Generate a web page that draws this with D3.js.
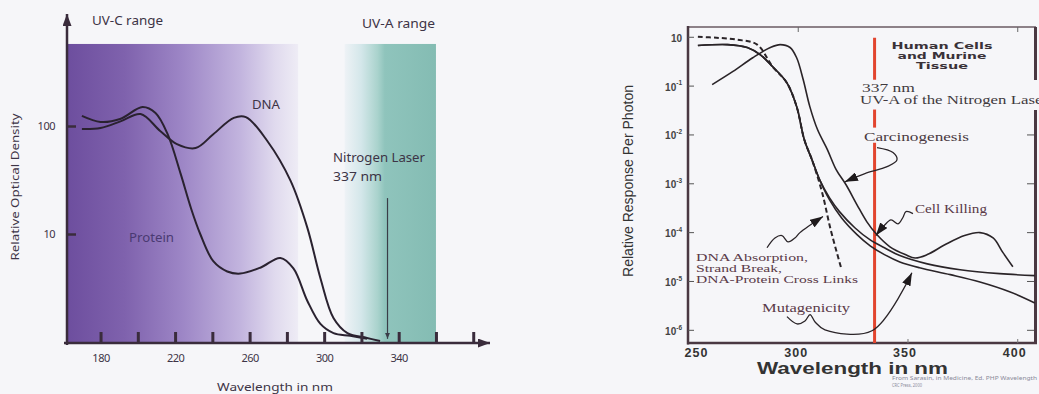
<!DOCTYPE html>
<html>
<head>
<meta charset="utf-8">
<script src="https://cdn.jsdelivr.net/npm/d3@7"></script>
<style>
  body { margin: 0; background: #f6f6f9; }
</style>
</head>
<body>
<div id="chart"></div>
<script>
// ---- left panel: absorption of DNA and protein ----
const tickWlL = [180, 200, 220, 240, 260, 280, 300, 320, 340, 360, 380];
const labelWlL = [180, 220, 260, 300, 340];
const odTicks = [10, 100];
const dnaWl = [170, 180, 191, 201.5, 212, 221, 231, 240.5, 251.5, 258, 269.5, 282, 291, 298, 305, 312.5, 323, 330];
const dnaOD = [94, 96, 111, 129, 90, 68, 62.5, 84, 119, 121, 72.6, 31, 11.4, 3.9, 1.67, 1.21, 1.09, 1.02];
const proteinWl = [170, 180, 190.5, 202.5, 209.5, 216, 223, 228.5, 233.5, 240.5, 248, 255, 266, 276.5, 283.5, 291, 298, 305, 314, 323];
const proteinOD = [124, 109, 116, 150, 132, 84, 36, 17.4, 10, 5.6, 4.5, 4.3, 4.9, 6.0, 4.8, 2.4, 1.47, 1.21, 1.14, 1.07];
const uvcBand = [162, 286];
const uvaBand = [311, 360];
const bandTop = 575;
const arrowWlL = 334;
const arrowOD = [21.5, 1.07];

// ---- right panel: action spectra ----
const tickWlR = [250, 300, 350, 400];
const decades = [0, -1, -2, -3, -4, -5, -6];
const curve1Wl = [261, 270.5, 279.5, 287.5, 292, 296.5, 299.5, 302.5, 305.5, 309, 313.5, 317.5, 322, 327, 331.5, 336, 342, 349, 353.5, 359, 367, 376, 383, 389, 393.5, 398];
const curve1Log = [-0.98, -0.71, -0.43, -0.22, -0.16, -0.22, -0.43, -0.88, -1.43, -1.9, -2.31, -2.72, -3.03, -3.44, -3.79, -4.05, -4.3, -4.46, -4.53, -4.46, -4.26, -4.07, -4.01, -4.12, -4.42, -4.71];
const curve2Wl = [254.5, 268, 277, 283, 288.5, 295, 299.5, 303, 306.5, 310, 314.5, 319, 326, 333, 339.5, 346.5, 359, 374, 392, 408];
const curve2Log = [-0.18, -0.16, -0.22, -0.37, -0.61, -0.94, -1.43, -2.11, -2.52, -2.93, -3.3, -3.58, -3.91, -4.16, -4.32, -4.48, -4.65, -4.77, -4.85, -4.89];
const curve3Wl = [254.5, 268, 277, 283, 288.5, 295, 299.5, 303, 306.5, 310, 314.5, 320, 327, 333, 339.5, 346.5, 355.5, 369.5, 383, 396.5, 408];
const curve3Log = [-0.18, -0.16, -0.22, -0.37, -0.61, -0.94, -1.43, -2.11, -2.52, -2.93, -3.34, -3.71, -4.05, -4.28, -4.46, -4.61, -4.73, -4.87, -5.02, -5.22, -5.45];
const dashedWl = [254.5, 263, 272.5, 281.5, 288.5, 295, 299.5, 303, 306.5, 311, 315, 320];
const dashedLog = [0.0, -0.02, -0.06, -0.16, -0.61, -0.94, -1.43, -2.11, -2.52, -3.17, -3.95, -4.77];
const laserWl = 335;
const laserSegments = [[-0.02, -0.88], [-1.49, -1.86], [-2.17, -6.27]];
const carcLeader = [[336.1, -2.27], [343.4, -2.37], [345.2, -2.52], [340.7, -2.66], [330.6, -2.8], [321.5, -2.97]];
const killLeader = [[352.5, -3.62], [349.3, -3.58], [347.9, -3.7], [345.7, -3.83], [342.5, -3.75], [339.3, -3.87], [335.6, -4.07]];
const dnaLeader = [[286, -4.32], [289.6, -4.12], [292.8, -4.07], [295.6, -4.2], [298.7, -4.12], [301, -4.01], [311.5, -3.68]];
const mutaLeader = [[295.1, -5.73], [299.7, -5.88], [303.3, -5.82], [305.6, -5.69], [307.9, -5.84], [312.4, -6.0], [333.8, -6.02], [352, -4.83]];

const svg = d3.select('#chart').append('svg')
  .attr('width', 1039).attr('height', 394)
  .attr('font-family', '"Noto Sans", "Open Sans", sans-serif')
  .style('background', '#f6f6f9');
const defs = svg.append('defs');

const uvcGrad = defs.append('linearGradient').attr('id', 'uvc');
[[0, '#6d4e9e'], [0.25, '#7f62ad'], [0.5, '#9d86c6'], [0.75, '#c2b4de'], [0.9, '#e0daee'], [1, '#eeecf5']]
  .forEach(s => uvcGrad.append('stop').attr('offset', s[0]).attr('stop-color', s[1]));
const uvaGrad = defs.append('linearGradient').attr('id', 'uva');
[[0, '#eef2f6'], [0.18, '#d4e7ea'], [0.36, '#aad3cd'], [0.44, '#8fc4bc'], [1, '#84bcb3']]
  .forEach(s => uvaGrad.append('stop').attr('offset', s[0]).attr('stop-color', s[1]));

function marker(id, w, h, color) {
  defs.append('marker').attr('id', id)
    .attr('viewBox', `0 0 ${w} ${h}`).attr('refX', w).attr('refY', h / 2)
    .attr('markerWidth', w).attr('markerHeight', h)
    .attr('markerUnits', 'userSpaceOnUse').attr('orient', 'auto')
    .append('path').attr('d', `M0,0L${w},${h / 2}L0,${h}z`).attr('fill', color);
}
marker('axisHead', 12, 9, '#3a2c3c');
marker('thinHead', 6, 5, '#3a3d48');
marker('annHead', 13, 9, '#1e1a1c');

function txt(g, s, x, y, opts) {
  const t = g.append('text').attr('x', x).attr('y', y).text(s);
  Object.entries(opts || {}).forEach(([k, v]) => t.attr(k, v));
  return t;
}

// ================= LEFT =================
const xL = d3.scaleLinear().domain([162, 389]).range([67, 490]);
const yL = d3.scaleLog().domain([1, 1000]).range([342, 18]);
const gL = svg.append('g');
const inkL = '#3d3446';

gL.append('rect')
  .attr('x', xL(uvcBand[0])).attr('width', xL(uvcBand[1]) - xL(uvcBand[0]))
  .attr('y', yL(bandTop)).attr('height', yL(1) - yL(bandTop))
  .attr('fill', 'url(#uvc)');
gL.append('rect')
  .attr('x', xL(uvaBand[0])).attr('width', xL(uvaBand[1]) - xL(uvaBand[0]))
  .attr('y', yL(bandTop)).attr('height', yL(1) - yL(bandTop))
  .attr('fill', 'url(#uva)');

const lineL = d3.line().x(d => xL(d[0])).y(d => yL(d[1])).curve(d3.curveCatmullRom.alpha(0.5));
gL.append('path').datum(d3.zip(dnaWl, dnaOD)).attr('d', lineL)
  .attr('fill', 'none').attr('stroke', '#2a2230').attr('stroke-width', 2);
gL.append('path').datum(d3.zip(proteinWl, proteinOD)).attr('d', lineL)
  .attr('fill', 'none').attr('stroke', '#2a2230').attr('stroke-width', 2);

// x ticks (upward bars) and labels
const xAxL = gL.append('g').attr('transform', `translate(0,${yL(1)})`)
  .call(d3.axisBottom(xL).tickValues(tickWlL).tickSize(-10).tickFormat(''));
xAxL.select('.domain').remove();
xAxL.selectAll('line').attr('stroke', '#3a2c3c').attr('stroke-width', 3);
const xLabL = gL.append('g').attr('transform', `translate(0,${yL(1)})`)
  .call(d3.axisBottom(xL).tickValues(labelWlL).tickSize(0).tickPadding(12));
xLabL.select('.domain').remove();
xLabL.selectAll('text').attr('font-size', 11).attr('fill', inkL)
  .attr('font-family', '"Noto Sans", sans-serif').attr('letter-spacing', -0.5);

// y ticks
const yAxL = gL.append('g').attr('transform', `translate(${xL(162)},0)`)
  .call(d3.axisLeft(yL).tickValues(odTicks).tickSize(-9).tickPadding(12).tickFormat(d3.format('d')));
yAxL.select('.domain').remove();
yAxL.selectAll('line').attr('stroke', '#3a2c3c').attr('stroke-width', 2.5);
yAxL.selectAll('text').attr('font-size', 11).attr('fill', inkL)
  .attr('font-family', '"Noto Sans", sans-serif').attr('letter-spacing', -0.5);

// axes with arrows
gL.append('line').attr('x1', xL(162)).attr('x2', xL(162)).attr('y1', yL(1) + 3).attr('y2', yL(1000) - 4)
  .attr('stroke', '#3a2c3c').attr('stroke-width', 2.5).attr('marker-end', 'url(#axisHead)');
gL.append('line').attr('x1', xL(162) - 3).attr('x2', xL(389)).attr('y1', yL(1) + 1).attr('y2', yL(1) + 1)
  .attr('stroke', '#3a2c3c').attr('stroke-width', 2.5).attr('marker-end', 'url(#axisHead)');

// laser arrow
gL.append('line').attr('x1', xL(arrowWlL)).attr('x2', xL(arrowWlL))
  .attr('y1', yL(arrowOD[0])).attr('y2', yL(arrowOD[1]))
  .attr('stroke', '#3a3d48').attr('stroke-width', 1.2).attr('marker-end', 'url(#thinHead)');

const fL = { 'font-size': 12, fill: inkL, lengthAdjust: 'spacingAndGlyphs' };
txt(gL, 'UV-C range', 92, 25, { ...fL, textLength: 71 });
txt(gL, 'UV-A range', 362, 28, { ...fL, textLength: 73 });
txt(gL, 'DNA', 252, 109, { ...fL, textLength: 28 });
txt(gL, 'Protein', 129, 242, { ...fL, fill: '#4a3a72', textLength: 45 });
txt(gL, 'Nitrogen Laser', 333, 162, { ...fL, textLength: 92 });
txt(gL, '337 nm', 333, 181, { ...fL, textLength: 49 });
txt(gL, 'Wavelength in nm', 217, 391, { ...fL, 'font-size': 11.5, textLength: 116 });
txt(gL, 'Relative Optical Density', 0, 0, { ...fL, 'font-size': 10.5, textLength: 147, 'text-anchor': 'middle',
  transform: 'translate(19,187) rotate(-90)' });

// ================= RIGHT =================
const xR = d3.scaleLinear().domain([250, 409]).range([688, 1037]);
const yR = d3.scaleLog().domain([Math.pow(10, -6.27), Math.pow(10, 0.2)]).range([343, 27]);
const gR = svg.append('g');
const frame = '#4a3842';

// frame
gR.append('line').attr('x1', xR(250)).attr('x2', 1036).attr('y1', 27).attr('y2', 27)
  .attr('stroke', '#6a5a62').attr('stroke-width', 1.5);
gR.append('line').attr('x1', xR(250)).attr('x2', xR(250)).attr('y1', 26).attr('y2', 344.5)
  .attr('stroke', frame).attr('stroke-width', 2.5);
gR.append('line').attr('x1', xR(250) - 1).attr('x2', 1037).attr('y1', 343).attr('y2', 343)
  .attr('stroke', frame).attr('stroke-width', 2.5);
gR.append('line').attr('x1', 1035.5).attr('x2', 1035.5).attr('y1', 27).attr('y2', 80)
  .attr('stroke', frame).attr('stroke-width', 3);
gR.append('line').attr('x1', 1035.5).attr('x2', 1035.5).attr('y1', 110).attr('y2', 344)
  .attr('stroke', frame).attr('stroke-width', 3);

// y ticks both sides
const yAxR = gR.append('g').attr('transform', `translate(${xR(250)},0)`)
  .call(d3.axisLeft(yR).tickValues(decades.map(e => Math.pow(10, e))).tickSize(-6).tickPadding(6).tickFormat(''));
yAxR.select('.domain').remove();
yAxR.selectAll('line').attr('stroke', '#555').attr('stroke-width', 1);
yAxR.selectAll('.tick').each(function (d, i) {
  const t = d3.select(this).select('text')
    .attr('font-family', '"Liberation Sans", Arial, sans-serif').attr('font-weight', 'bold')
    .attr('font-size', 10).attr('fill', '#444').attr('dy', '0.45em');
  t.append('tspan').text('10');
  if (decades[i] !== 0) {
    t.append('tspan').attr('font-size', 6.5).attr('dy', '-0.8em').text(decades[i] + '');
  }
});
const yAxR2 = gR.append('g').attr('transform', `translate(1034,0)`)
  .call(d3.axisRight(yR).tickValues(decades.slice(2).map(e => Math.pow(10, e))).tickSize(-7).tickFormat(''));
yAxR2.select('.domain').remove();
yAxR2.selectAll('line').attr('stroke', '#555').attr('stroke-width', 1);

// x ticks top and bottom
const xTop = gR.append('g').attr('transform', 'translate(0,27)')
  .call(d3.axisTop(xR).tickValues([300, 400]).tickSize(-5).tickFormat(''));
xTop.select('.domain').remove();
xTop.selectAll('line').attr('stroke', '#666');
const xAxR = gR.append('g').attr('transform', 'translate(0,343)')
  .call(d3.axisBottom(xR).tickValues(tickWlR).tickSize(0).tickPadding(5));
xAxR.select('.domain').remove();
xAxR.selectAll('text').attr('font-family', '"Liberation Sans", Arial, sans-serif').attr('font-weight', 'bold')
  .attr('font-size', 12.5).attr('fill', '#333').attr('letter-spacing', 1)
  .attr('dx', (d, i) => i === 0 ? 8 : (i === 1 ? -2 : -3));
const xTickUp = gR.append('g').attr('transform', 'translate(0,343)')
  .call(d3.axisBottom(xR).tickValues([350, 400]).tickSize(-4).tickFormat(''));
xTickUp.select('.domain').remove();
xTickUp.selectAll('line').attr('stroke', '#777');

// red laser line
laserSegments.forEach(s => {
  gR.append('line').attr('x1', xR(laserWl)).attr('x2', xR(laserWl))
    .attr('y1', yR(Math.pow(10, s[0]))).attr('y2', yR(Math.pow(10, s[1])))
    .attr('stroke', '#e2452f').attr('stroke-width', 3);
});

// curves
const lineR = d3.line().x(d => xR(d[0])).y(d => yR(Math.pow(10, d[1]))).curve(d3.curveCatmullRom.alpha(0.5));
[[curve1Wl, curve1Log], [curve2Wl, curve2Log], [curve3Wl, curve3Log]].forEach(c => {
  gR.append('path').datum(d3.zip(c[0], c[1])).attr('d', lineR)
    .attr('fill', 'none').attr('stroke', '#2a2428').attr('stroke-width', 1.6);
});
gR.append('path').datum(d3.zip(dashedWl, dashedLog)).attr('d', lineR)
  .attr('fill', 'none').attr('stroke', '#2a2428').attr('stroke-width', 2).attr('stroke-dasharray', '5,3');

// leaders with arrowheads
[carcLeader, killLeader, dnaLeader, mutaLeader].forEach(l => {
  gR.append('path').datum(l).attr('d', lineR)
    .attr('fill', 'none').attr('stroke', '#2a2428').attr('stroke-width', 1.3)
    .attr('marker-end', 'url(#annHead)');
});

// text
const fR = { 'font-family': '"Liberation Serif", "DejaVu Serif", serif', 'font-size': 11, fill: '#5a3a48', lengthAdjust: 'spacingAndGlyphs' };
const fB = { 'font-family': '"DejaVu Sans", Verdana, sans-serif', 'font-weight': 'bold', 'font-size': 9.5, fill: '#3a3238', 'text-anchor': 'middle', lengthAdjust: 'spacingAndGlyphs' };
txt(gR, 'Human Cells', 942, 49, { ...fB, textLength: 101 });
txt(gR, 'and Murine', 942, 59, { ...fB, textLength: 89 });
txt(gR, 'Tissue', 942, 69, { ...fB, textLength: 52 });
txt(gR, '337 nm', 862, 92, { ...fR, 'font-size': 12, fill: '#3f3a3e', textLength: 53 });
txt(gR, 'UV-A of the Nitrogen Laser', 860, 104, { ...fR, 'font-size': 12, fill: '#3f3a3e', textLength: 188 });
txt(gR, 'Carcinogenesis', 864, 141, { ...fR, 'font-size': 12, fill: '#4a3a42', textLength: 105 });
txt(gR, 'Cell Killing', 915, 213, { ...fR, 'font-size': 12, textLength: 72 });
txt(gR, 'DNA Absorption,', 696, 261, { ...fR, textLength: 112 });
txt(gR, 'Strand Break,', 696, 272, { ...fR, textLength: 86 });
txt(gR, 'DNA-Protein Cross Links', 696, 283, { ...fR, textLength: 162 });
txt(gR, 'Mutagenicity', 762, 312, { ...fR, 'font-size': 12, textLength: 88 });
txt(gR, 'Wavelength in nm', 757, 374, { 'font-family': '"Liberation Sans", Arial, sans-serif', 'font-weight': 'bold',
  'font-size': 16, fill: '#333', textLength: 191, lengthAdjust: 'spacingAndGlyphs' });
txt(gR, 'Relative Response Per Photon', 0, 0, { 'font-family': '"Liberation Sans Narrow", "Liberation Sans", sans-serif',
  'font-size': 15, fill: '#333', 'text-anchor': 'middle', textLength: 192, lengthAdjust: 'spacingAndGlyphs',
  transform: 'translate(633,181) rotate(-90)' });
txt(gR, 'From Sarasin, in Medicine, Ed. PHP Wavelength', 892, 380, { 'font-size': 4.5, fill: '#8a8a9a', textLength: 145, lengthAdjust: 'spacingAndGlyphs' });
txt(gR, 'CRC Press, 2000', 892, 387, { 'font-size': 4.5, fill: '#8a8a9a', textLength: 30, lengthAdjust: 'spacingAndGlyphs' });
</script>
</body>
</html>
